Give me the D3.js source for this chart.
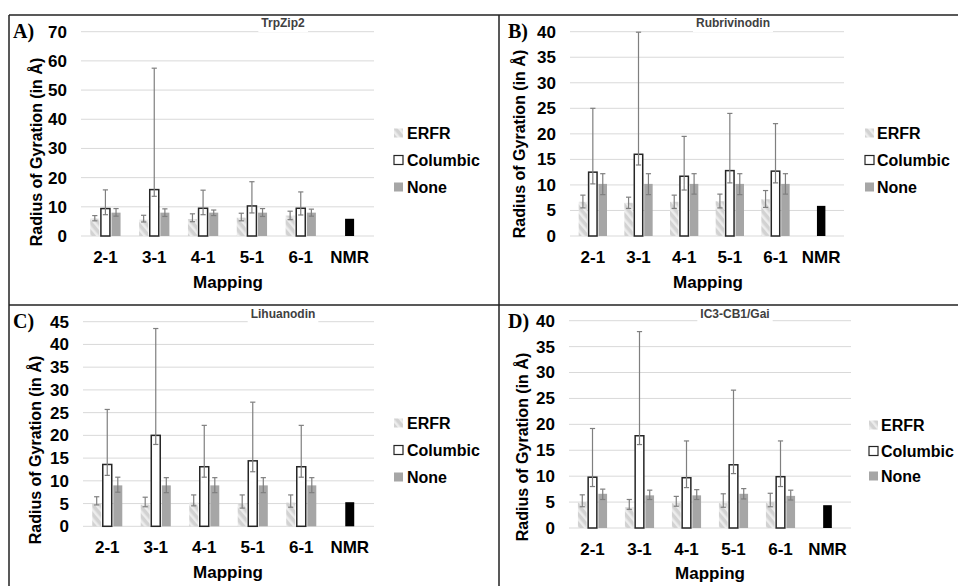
<!DOCTYPE html>
<html>
<head>
<meta charset="utf-8">
<script src="https://cdn.jsdelivr.net/npm/d3@7"></script>
<style>
  body { margin: 0; background: #fff; }
  text { font-family: 'Liberation Sans', Arial, sans-serif; }
</style>
</head>
<body>
<svg id="chart" width="958" height="586"></svg>
<script>

var categories = ['2-1', '3-1', '4-1', '5-1', '6-1', 'NMR']
var mappings = ['2-1', '3-1', '4-1', '5-1', '6-1']
var seriesNames = ['ERFR', 'Columbic', 'None']
var panelTitles = ['TrpZip2', 'Rubrivinodin', 'Lihuanodin', 'IC3-CB1/Gai']
var panelLetters = ['A)', 'B)', 'C)', 'D)']
var yMax = [70, 40, 45, 40]
var yStep = [10, 5, 5, 5]

// A) TrpZip2
var erfrA = [6.0, 5.6, 5.8, 6.3, 7.0]
var erfrLowA = [5.2, 4.8, 4.9, 5.2, 5.6]
var erfrHighA = [7.0, 7.1, 7.6, 7.8, 8.5]
var colA = [9.4, 15.9, 9.5, 10.3, 9.5]
var colLowA = [7.3, 13.6, 7.3, 7.9, 7.2]
var colHighA = [15.8, 57.5, 15.7, 18.6, 15.1]
var noneA = [8.0, 8.0, 8.0, 8.0, 8.0]
var noneLowA = [6.8, 6.7, 7.0, 6.7, 6.8]
var noneHighA = [9.4, 9.3, 8.9, 9.4, 9.2]
var nmrA = 5.9

// B) Rubrivinodin
var erfrB = [6.7, 6.5, 6.7, 6.8, 7.2]
var erfrLowB = [5.5, 5.4, 5.4, 5.5, 5.6]
var erfrHighB = [8.0, 7.6, 8.0, 8.2, 8.9]
var colB = [12.5, 16.0, 11.7, 12.8, 12.7]
var colLowB = [10.2, 13.9, 9.0, 10.4, 10.4]
var colHighB = [25.0, 39.9, 19.5, 24.0, 22.0]
var noneB = [10.2, 10.2, 10.2, 10.2, 10.2]
var noneLowB = [8.1, 8.1, 8.2, 8.1, 8.2]
var noneHighB = [12.2, 12.2, 12.2, 12.2, 12.2]
var nmrB = 5.9

// C) Lihuanodin
var erfrC = [5.0, 4.8, 5.2, 5.0, 5.2]
var erfrLowC = [4.7, 4.3, 4.5, 4.0, 4.2]
var erfrHighC = [6.5, 6.4, 6.9, 6.9, 6.9]
var colC = [13.6, 20.0, 13.1, 14.4, 13.1]
var colLowC = [11.2, 18.0, 10.8, 12.0, 10.8]
var colHighC = [25.7, 43.5, 22.2, 27.3, 22.2]
var noneC = [9.0, 9.0, 9.0, 9.0, 9.0]
var noneLowC = [7.5, 7.4, 7.4, 7.4, 7.4]
var noneHighC = [10.8, 10.7, 10.7, 10.7, 10.7]
var nmrC = 5.3

// D) IC3-CB1/Gai
var erfrD = [5.0, 4.0, 4.8, 4.8, 5.0]
var erfrLowD = [4.1, 3.6, 4.2, 4.0, 4.1]
var erfrHighD = [6.4, 5.5, 6.1, 6.6, 6.7]
var colD = [9.8, 17.8, 9.7, 12.2, 9.9]
var colLowD = [8.0, 16.1, 7.8, 10.5, 8.0]
var colHighD = [19.2, 37.9, 16.8, 26.6, 16.8]
var noneD = [6.6, 6.3, 6.3, 6.6, 6.2]
var noneLowD = [5.5, 5.5, 5.5, 5.6, 5.4]
var noneHighD = [7.5, 7.3, 7.4, 7.6, 7.3]
var nmrD = 4.4

var panelData = [
    { means: [erfrA, colA, noneA], lows: [erfrLowA, colLowA, noneLowA], highs: [erfrHighA, colHighA, noneHighA], nmr: nmrA },
    { means: [erfrB, colB, noneB], lows: [erfrLowB, colLowB, noneLowB], highs: [erfrHighB, colHighB, noneHighB], nmr: nmrB },
    { means: [erfrC, colC, noneC], lows: [erfrLowC, colLowC, noneLowC], highs: [erfrHighC, colHighC, noneHighC], nmr: nmrC },
    { means: [erfrD, colD, noneD], lows: [erfrLowD, colLowD, noneLowD], highs: [erfrHighD, colHighD, noneHighD], nmr: nmrD }
]

// where each panel sits on the page
var layout = [
    { x0: 81, x1: 374, yTop: 31.7, yBot: 236, titleX: 283, titleY: 27, letterX: 13, letterY: 38,
      ylabX: 42, ylabY: 152, xlabX: 228, xlabY: 288, legSq: 394, legTx: 407, legY: [133, 160, 187] },
    { x0: 570, x1: 844, yTop: 31.7, yBot: 236, titleX: 733, titleY: 27, letterX: 508, letterY: 38,
      ylabX: 525, ylabY: 144, xlabX: 708, xlabY: 288, legSq: 865, legTx: 877, legY: [133, 160, 187] },
    { x0: 83, x1: 374, yTop: 321.7, yBot: 526.3, titleX: 283, titleY: 318, letterX: 13, letterY: 328,
      ylabX: 41, ylabY: 450, xlabX: 228, xlabY: 578, legSq: 394, legTx: 407, legY: [423, 450, 477] },
    { x0: 569, x1: 851, yTop: 320.7, yBot: 528, titleX: 735, titleY: 318, letterX: 508, letterY: 328,
      ylabX: 528, ylabY: 447, xlabX: 710, xlabY: 579, legSq: 869, legTx: 881, legY: [425, 451, 476] }
]

var svg = d3.select('#chart')

// diagonal hatch used for the ERFR bars
var defs = svg.append('defs')
var hatch = defs.append('pattern')
                .attr('id', 'hatch')
                .attr('patternUnits', 'userSpaceOnUse')
                .attr('width', 6)
                .attr('height', 6)
                .attr('patternTransform', 'rotate(-40)')
hatch.append('rect').attr('width', 6).attr('height', 6).attr('fill', '#d2d2d2')
hatch.append('rect').attr('width', 2.5).attr('height', 6).attr('fill', '#ececec')

var fills = ['url(#hatch)', '#ffffff', '#a6a6a6']
var strokes = ['none', '#262626', 'none']

var drawPanel = (p, i) => {
    var L = layout[i]
    var g = svg.append('g')

    // right hand panels get a white backing so the left legends are cut off
    if (i % 2 == 1) {
        g.append('rect')
            .attr('x', 499).attr('y', L.yTop - 20)
            .attr('width', 459).attr('height', 280)
            .attr('fill', '#fff')
    }

    var x = d3.scaleBand().domain(categories).range([L.x0, L.x1])
    var groupW = x.bandwidth() * 0.62
    var xs = d3.scaleBand().domain(seriesNames).range([-groupW / 2, groupW / 2]).paddingInner(0.15)
    var y = d3.scaleLinear().domain([0, yMax[i]]).range([L.yBot, L.yTop])
    var ticks = d3.range(0, yMax[i] + 0.01, yStep[i])

    // gridlines
    g.selectAll('.grid')
        .data(ticks)
        .join('line')
        .attr('x1', L.x0).attr('x2', L.x1)
        .attr('y1', d => y(d)).attr('y2', d => y(d))
        .attr('stroke', '#d9d9d9')
        .attr('stroke-width', 1)

    // title with white box behind it
    var title = g.append('text')
                    .attr('x', L.titleX).attr('y', L.titleY)
                    .attr('text-anchor', 'middle')
                    .style('font-size', '12px').style('font-weight', 'bold')
                    .attr('fill', '#404040')
                    .text(panelTitles[i])
    var bb = title.node().getBBox()
    g.insert('rect', 'text')
        .attr('x', bb.x - 3).attr('y', bb.y - 1)
        .attr('width', bb.width + 6).attr('height', bb.height + 3)
        .attr('fill', '#fff')

    // y axis
    var yAxis = g.append('g')
                    .attr('transform', 'translate(' + L.x0 + ',0)')
                    .call(d3.axisLeft(y).tickValues(ticks).tickSize(0).tickPadding(14))
    yAxis.select('.domain').remove()
    yAxis.selectAll('text')
            .style('font-size', '17px').style('font-weight', 'bold')
            .attr('fill', '#000')
            .style('font-family', "'Liberation Sans', Arial, sans-serif")

    // x axis
    var xAxis = g.append('g')
                    .attr('transform', 'translate(0,' + L.yBot + ')')
                    .call(d3.axisBottom(x).tickSize(0).tickPadding(15))
    xAxis.select('.domain').remove()
    xAxis.selectAll('text')
            .style('font-size', '17px').style('font-weight', 'bold')
            .attr('fill', '#000')
            .style('font-family', "'Liberation Sans', Arial, sans-serif")

    // bars for the mapping groups
    var rows = []
    seriesNames.forEach((s, k) => {
        mappings.forEach((m, j) => {
            rows.push({ s: s, k: k, m: m, v: p.means[k][j], lo: p.lows[k][j], hi: p.highs[k][j] })
        })
    })

    g.selectAll('.bar')
        .data(rows)
        .join('rect')
        .attr('x', d => x(d.m) + x.bandwidth() / 2 + xs(d.s))
        .attr('y', d => y(d.v))
        .attr('width', xs.bandwidth())
        .attr('height', d => y(0) - y(d.v))
        .attr('fill', d => fills[d.k])
        .attr('stroke', d => strokes[d.k])
        .attr('stroke-width', 1.5)

    // NMR reference bar
    g.append('rect')
        .attr('x', x('NMR') + x.bandwidth() / 2 - xs.bandwidth() / 2)
        .attr('y', y(p.nmr))
        .attr('width', xs.bandwidth())
        .attr('height', y(0) - y(p.nmr))
        .attr('fill', '#000')

    // error bars
    var err = g.selectAll('.err')
                .data(rows)
                .join('g')
                .attr('transform', d => 'translate(' + (x(d.m) + x.bandwidth() / 2 + xs(d.s) + xs.bandwidth() / 2) + ',0)')
                .attr('stroke', '#7f7f7f')
                .attr('stroke-width', 1.2)
    err.append('line').attr('y1', d => y(d.lo)).attr('y2', d => y(d.hi))
    err.append('line').attr('x1', -2.6).attr('x2', 2.6).attr('y1', d => y(d.lo)).attr('y2', d => y(d.lo))
    err.append('line').attr('x1', -2.6).attr('x2', 2.6).attr('y1', d => y(d.hi)).attr('y2', d => y(d.hi))

    // axis titles
    g.append('text')
        .attr('transform', 'translate(' + L.ylabX + ',' + L.ylabY + ') rotate(-90)')
        .attr('text-anchor', 'middle')
        .style('font-size', '16px').style('font-weight', 'bold')
        .text('Radius of Gyration (in Å)')
    g.append('text')
        .attr('x', L.xlabX).attr('y', L.xlabY)
        .attr('text-anchor', 'middle')
        .style('font-size', '17px').style('font-weight', 'bold')
        .text('Mapping')

    // panel letter
    g.append('text')
        .attr('x', L.letterX).attr('y', L.letterY)
        .style('font-family', "'Liberation Serif', 'Times New Roman', serif")
        .style('font-size', '20px').style('font-weight', 'bold')
        .text(panelLetters[i])

    // legend
    var leg = g.selectAll('.leg')
                .data(seriesNames)
                .join('g')
    leg.append('rect')
        .attr('x', L.legSq)
        .attr('y', (d, k) => L.legY[k] - 4.5)
        .attr('width', 9).attr('height', 9)
        .attr('fill', (d, k) => fills[k])
        .attr('stroke', (d, k) => k == 1 ? '#262626' : 'none')
        .attr('stroke-width', 1.2)
    leg.append('text')
        .attr('x', L.legTx)
        .attr('y', (d, k) => L.legY[k] + 6)
        .style('font-size', '16px').style('font-weight', 'bold')
        .text(d => d)
}

panelData.forEach((p, i) => drawPanel(p, i))

// frame lines between the panels
var frame = [
    [9, 15, 958, 15],
    [9, 305, 958, 305],
    [9, 15, 9, 586],
    [499, 15, 499, 586]
]
svg.selectAll('.frame')
    .data(frame)
    .join('line')
    .attr('x1', d => d[0]).attr('y1', d => d[1])
    .attr('x2', d => d[2]).attr('y2', d => d[3])
    .attr('stroke', '#222')
    .attr('stroke-width', 1.5)

</script>
</body>
</html>
